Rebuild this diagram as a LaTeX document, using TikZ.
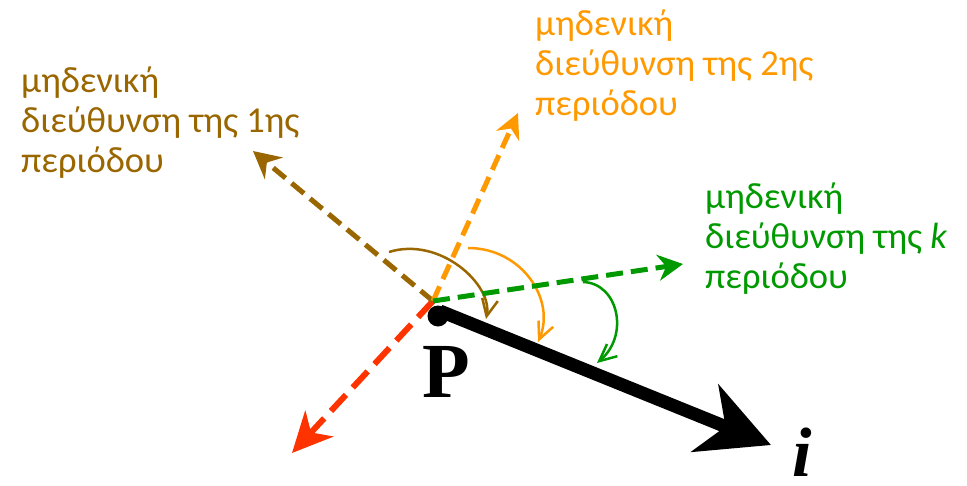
\documentclass[tikz,border=0pt]{standalone}
\usepackage{fontspec}
\setmainfont{Carlito}
\newfontfamily\serifbf{Liberation Serif}
\usetikzlibrary{arrows.meta}
\definecolor{cbrown}{HTML}{996600}
\definecolor{corange}{HTML}{FF9900}
\definecolor{cgreen}{HTML}{009900}
\definecolor{cred}{HTML}{FF3300}
\begin{document}
\begin{tikzpicture}[x=1pt,y=-1pt,
  zerodir/.style={line width=5pt, dash pattern=on 16pt off 8pt},
  anglearc/.style={line width=2.5pt, -{Straight Barb[length=17pt,width=16pt]}},
  lbl/.style={anchor=base west, align=left, inner sep=0pt, font=\fontsize{36.5}{40}\selectfont}]
\useasboundingbox (0,0) rectangle (967,485);
% directions
\coordinate (O) at (433,301);
\coordinate (tb) at (253,151);
\coordinate (to) at (518,113);
\coordinate (tg) at (683,264);
\coordinate (tr) at (292,453);
\coordinate (ls) at (440,311);
\coordinate (ti) at (771,445);
% red direction
\draw[zerodir, cred, line width=6pt, dash pattern=on 22pt off 10pt,
  -{Stealth[length=40pt,width=38pt,inset=12pt]}] (O) -- (tr);
% brown direction and arc
\draw[zerodir, cbrown, -{Stealth[length=27pt,width=28pt,inset=9pt]}] (O) -- (tb);
\draw[anglearc, cbrown] (389,252) .. controls (440,236) and (493,285) .. (486,319);
% orange direction and arc
\draw[zerodir, corange, -{Stealth[length=25pt,width=25pt,inset=8pt]}] (O) -- (to);
\draw[anglearc, corange] (468,248) .. controls (522,248) and (556,300) .. (538,342);
% green direction and arc
\draw[zerodir, cgreen, dash pattern=on 17pt off 8pt, -{Stealth[length=25pt,width=26pt,inset=8pt]}] (O) -- (tg);
\draw[anglearc, cgreen] (583,282) .. controls (618,283) and (630,335) .. (597,363);
% vector i
\node[circle, fill=black, minimum size=21pt, inner sep=0pt] (Pdot) at (438,316) {};
\draw[line width=13pt, -{Stealth[length=71pt,width=72pt,inset=22pt]}] (ls) -- (ti);
\node[anchor=base, inner sep=0pt, font=\serifbf\bfseries\fontsize{78}{78}\selectfont] (Plbl) at (446,397) {P};
\node[anchor=base, inner sep=0pt, font=\serifbf\bfseries\itshape\fontsize{70}{70}\selectfont] (ilbl) at (802,476) {i};
% labels (anchored at the baseline of the last line)
\node[lbl, text=cbrown] (L1) at (21,172) {μηδενική\\διεύθυνση της 1ης\\περιόδου};
\node[lbl, text=corange] (L2) at (535,115) {μηδενική\\διεύθυνση της 2ης\\περιόδου};
\node[lbl, text=cgreen] (Lk) at (705,288) {μηδενική\\διεύθυνση της \textit{k}\\περιόδου};
\end{tikzpicture}
\end{document}
